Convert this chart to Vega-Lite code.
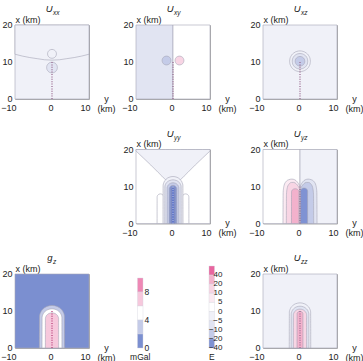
{
"$schema": "https://vega.github.io/schema/vega-lite/v6.json",
"padding": {"left": 0, "top": 3, "right": 0, "bottom": 0},
"config": {
 "font": "Liberation Sans",
 "view": {"stroke": "#aaaaaa", "strokeWidth": 1},
 "axis": {"labels": false, "titleColor": "#222", "titleFontSize": 9, "titleFontWeight": "normal", "titleFont": "Liberation Sans", "ticks": false, "domain": false, "grid": false},
 "text": {"color": "#222", "font": "Liberation Sans"}
},
"datasets": {
 "dike": [{"y": 0, "a": 0, "b": 10.2}],
 "xt": [{"v": -10, "l": "−10"}, {"v": 0, "l": "0"}, {"v": 10, "l": "10"}],
 "yt": [{"v": 0, "l": "0"}, {"v": 10, "l": "10"}, {"v": 20, "l": "20"}],
 "uxx": [
  {"s":"bg","c":"n0","y":-10,"a":0,"b":20},{"s":"bg","c":"n0","y":10,"a":0,"b":20},
  {"s":"up","c":"n0","y":-10,"a":12.1,"b":20},{"s":"up","c":"n0","y":-8,"a":11.6,"b":20},{"s":"up","c":"n0","y":-6,"a":11.2,"b":20},{"s":"up","c":"n0","y":-4,"a":10.9,"b":20},{"s":"up","c":"n0","y":-2,"a":10.6,"b":20},{"s":"up","c":"n0","y":0,"a":10.5,"b":20},{"s":"up","c":"n0","y":2,"a":10.6,"b":20},{"s":"up","c":"n0","y":4,"a":10.9,"b":20},{"s":"up","c":"n0","y":6,"a":11.2,"b":20},{"s":"up","c":"n0","y":8,"a":11.6,"b":20},{"s":"up","c":"n0","y":10,"a":12.1,"b":20},
  {"s":"c1","c":"n0","y":-1.2,"a":12.2,"b":12.2},{"s":"c1","c":"n0","y":-1.16,"a":11.91,"b":12.49},{"s":"c1","c":"n0","y":-1.02,"a":11.57,"b":12.83},{"s":"c1","c":"n0","y":-0.72,"a":11.24,"b":13.16},{"s":"c1","c":"n0","y":-0.36,"a":11.06,"b":13.34},{"s":"c1","c":"n0","y":0,"a":11.0,"b":13.4},{"s":"c1","c":"n0","y":0.36,"a":11.06,"b":13.34},{"s":"c1","c":"n0","y":0.72,"a":11.24,"b":13.16},{"s":"c1","c":"n0","y":1.02,"a":11.57,"b":12.83},{"s":"c1","c":"n0","y":1.16,"a":11.91,"b":12.49},{"s":"c1","c":"n0","y":1.2,"a":12.2,"b":12.2},
  {"s":"c2","c":"n5","y":-1.45,"a":8.5,"b":8.5},{"s":"c2","c":"n5","y":-1.41,"a":8.15,"b":8.85},{"s":"c2","c":"n5","y":-1.23,"a":7.74,"b":9.26},{"s":"c2","c":"n5","y":-0.87,"a":7.34,"b":9.66},{"s":"c2","c":"n5","y":-0.44,"a":7.12,"b":9.88},{"s":"c2","c":"n5","y":0,"a":7.05,"b":9.95},{"s":"c2","c":"n5","y":0.44,"a":7.12,"b":9.88},{"s":"c2","c":"n5","y":0.87,"a":7.34,"b":9.66},{"s":"c2","c":"n5","y":1.23,"a":7.74,"b":9.26},{"s":"c2","c":"n5","y":1.41,"a":8.15,"b":8.85},{"s":"c2","c":"n5","y":1.45,"a":8.5,"b":8.5}
 ],
 "uxy": [
  {"s":"L","c":"n5","y":-10,"a":0,"b":20},{"s":"L","c":"n5","y":0,"a":0,"b":20},
  {"s":"R","c":"p0","y":0,"a":0,"b":20},{"s":"R","c":"p0","y":10,"a":0,"b":20},
  {"s":"cb","c":"n10","y":-2.95,"a":10.4,"b":10.4},{"s":"cb","c":"n10","y":-2.91,"a":10.11,"b":10.69},{"s":"cb","c":"n10","y":-2.77,"a":9.77,"b":11.03},{"s":"cb","c":"n10","y":-2.47,"a":9.44,"b":11.36},{"s":"cb","c":"n10","y":-2.11,"a":9.26,"b":11.54},{"s":"cb","c":"n10","y":-1.75,"a":9.2,"b":11.6},{"s":"cb","c":"n10","y":-1.39,"a":9.26,"b":11.54},{"s":"cb","c":"n10","y":-1.03,"a":9.44,"b":11.36},{"s":"cb","c":"n10","y":-0.73,"a":9.77,"b":11.03},{"s":"cb","c":"n10","y":-0.59,"a":10.11,"b":10.69},{"s":"cb","c":"n10","y":-0.55,"a":10.4,"b":10.4},
  {"s":"cp","c":"p10","y":0.55,"a":10.4,"b":10.4},{"s":"cp","c":"p10","y":0.59,"a":10.11,"b":10.69},{"s":"cp","c":"p10","y":0.73,"a":9.77,"b":11.03},{"s":"cp","c":"p10","y":1.03,"a":9.44,"b":11.36},{"s":"cp","c":"p10","y":1.39,"a":9.26,"b":11.54},{"s":"cp","c":"p10","y":1.75,"a":9.2,"b":11.6},{"s":"cp","c":"p10","y":2.11,"a":9.26,"b":11.54},{"s":"cp","c":"p10","y":2.47,"a":9.44,"b":11.36},{"s":"cp","c":"p10","y":2.77,"a":9.77,"b":11.03},{"s":"cp","c":"p10","y":2.91,"a":10.11,"b":10.69},{"s":"cp","c":"p10","y":2.95,"a":10.4,"b":10.4}
 ],
 "uxz": [
  {"s":"bg","c":"n0","y":-10,"a":0,"b":20},{"s":"bg","c":"n0","y":10,"a":0,"b":20},
  {"s":"c1","c":"n0","y":-2.8,"a":10.2,"b":10.2},{"s":"c1","c":"n0","y":-2.72,"a":9.52,"b":10.88},{"s":"c1","c":"n0","y":-2.38,"a":8.72,"b":11.68},{"s":"c1","c":"n0","y":-1.68,"a":7.96,"b":12.44},{"s":"c1","c":"n0","y":-0.84,"a":7.53,"b":12.87},{"s":"c1","c":"n0","y":0,"a":7.4,"b":13.0},{"s":"c1","c":"n0","y":0.84,"a":7.53,"b":12.87},{"s":"c1","c":"n0","y":1.68,"a":7.96,"b":12.44},{"s":"c1","c":"n0","y":2.38,"a":8.72,"b":11.68},{"s":"c1","c":"n0","y":2.72,"a":9.52,"b":10.88},{"s":"c1","c":"n0","y":2.8,"a":10.2,"b":10.2},
  {"s":"c2","c":"n5","y":-2.1,"a":10.2,"b":10.2},{"s":"c2","c":"n5","y":-2.04,"a":9.69,"b":10.71},{"s":"c2","c":"n5","y":-1.79,"a":9.09,"b":11.31},{"s":"c2","c":"n5","y":-1.26,"a":8.52,"b":11.88},{"s":"c2","c":"n5","y":-0.63,"a":8.2,"b":12.2},{"s":"c2","c":"n5","y":0,"a":8.1,"b":12.3},{"s":"c2","c":"n5","y":0.63,"a":8.2,"b":12.2},{"s":"c2","c":"n5","y":1.26,"a":8.52,"b":11.88},{"s":"c2","c":"n5","y":1.79,"a":9.09,"b":11.31},{"s":"c2","c":"n5","y":2.04,"a":9.69,"b":10.71},{"s":"c2","c":"n5","y":2.1,"a":10.2,"b":10.2},
  {"s":"c3","c":"n10","y":-1.3,"a":10.2,"b":10.2},{"s":"c3","c":"n10","y":-1.26,"a":9.88,"b":10.52},{"s":"c3","c":"n10","y":-1.11,"a":9.52,"b":10.88},{"s":"c3","c":"n10","y":-0.78,"a":9.16,"b":11.24},{"s":"c3","c":"n10","y":-0.39,"a":8.96,"b":11.44},{"s":"c3","c":"n10","y":0,"a":8.9,"b":11.5},{"s":"c3","c":"n10","y":0.39,"a":8.96,"b":11.44},{"s":"c3","c":"n10","y":0.78,"a":9.16,"b":11.24},{"s":"c3","c":"n10","y":1.11,"a":9.52,"b":10.88},{"s":"c3","c":"n10","y":1.26,"a":9.88,"b":10.52},{"s":"c3","c":"n10","y":1.3,"a":10.2,"b":10.2}
 ],
 "uyy": [
  {"s":"bg","c":"p0","y":-10,"a":0,"b":20},{"s":"bg","c":"p0","y":10,"a":0,"b":20},
  {"s":"V","c":"n0","y":-10,"a":19.6,"b":20},{"s":"V","c":"n0","y":-8,"a":17.7,"b":20},{"s":"V","c":"n0","y":-6,"a":15.8,"b":20},{"s":"V","c":"n0","y":-4,"a":13.8,"b":20},{"s":"V","c":"n0","y":-3,"a":12.8,"b":20},{"s":"V","c":"n0","y":-2,"a":11.8,"b":20},{"s":"V","c":"n0","y":-1,"a":11.0,"b":20},{"s":"V","c":"n0","y":0,"a":10.7,"b":20},{"s":"V","c":"n0","y":1,"a":11.0,"b":20},{"s":"V","c":"n0","y":2,"a":11.8,"b":20},{"s":"V","c":"n0","y":3,"a":12.8,"b":20},{"s":"V","c":"n0","y":4,"a":13.8,"b":20},{"s":"V","c":"n0","y":6,"a":15.8,"b":20},{"s":"V","c":"n0","y":8,"a":17.7,"b":20},{"s":"V","c":"n0","y":10,"a":19.6,"b":20},
  {"s":"sl","c":"p0","y":-4.3,"a":0,"b":0},{"s":"sl","c":"p0","y":-4.29,"a":0,"b":7.23},{"s":"sl","c":"p0","y":-4.21,"a":0,"b":7.49},{"s":"sl","c":"p0","y":-4.03,"a":0,"b":7.74},{"s":"sl","c":"p0","y":-3.76,"a":0,"b":7.93},{"s":"sl","c":"p0","y":-3.4,"a":0,"b":8.0},{"s":"sl","c":"p0","y":-3.04,"a":0,"b":7.93},{"s":"sl","c":"p0","y":-2.77,"a":0,"b":7.74},{"s":"sl","c":"p0","y":-2.59,"a":0,"b":7.49},{"s":"sl","c":"p0","y":-2.51,"a":0,"b":7.23},{"s":"sl","c":"p0","y":-2.5,"a":0,"b":0},
  {"s":"sr","c":"p0","y":2.5,"a":0,"b":0},{"s":"sr","c":"p0","y":2.51,"a":0,"b":7.23},{"s":"sr","c":"p0","y":2.59,"a":0,"b":7.49},{"s":"sr","c":"p0","y":2.77,"a":0,"b":7.74},{"s":"sr","c":"p0","y":3.04,"a":0,"b":7.93},{"s":"sr","c":"p0","y":3.4,"a":0,"b":8.0},{"s":"sr","c":"p0","y":3.76,"a":0,"b":7.93},{"s":"sr","c":"p0","y":4.03,"a":0,"b":7.74},{"s":"sr","c":"p0","y":4.21,"a":0,"b":7.49},{"s":"sr","c":"p0","y":4.29,"a":0,"b":7.23},{"s":"sr","c":"p0","y":4.3,"a":0,"b":0},
  {"s":"a1","c":"n0","y":-2.7,"a":0,"b":0},{"s":"a1","c":"n0","y":-2.67,"a":0,"b":10.38},{"s":"a1","c":"n0","y":-2.43,"a":0,"b":11.18},{"s":"a1","c":"n0","y":-1.89,"a":0,"b":11.93},{"s":"a1","c":"n0","y":-1.08,"a":0,"b":12.48},{"s":"a1","c":"n0","y":0,"a":0,"b":12.7},{"s":"a1","c":"n0","y":1.08,"a":0,"b":12.48},{"s":"a1","c":"n0","y":1.89,"a":0,"b":11.93},{"s":"a1","c":"n0","y":2.43,"a":0,"b":11.18},{"s":"a1","c":"n0","y":2.67,"a":0,"b":10.38},{"s":"a1","c":"n0","y":2.7,"a":0,"b":0},
  {"s":"a2","c":"n5","y":-2.2,"a":0,"b":0},{"s":"a2","c":"n5","y":-2.18,"a":0,"b":10.08},{"s":"a2","c":"n5","y":-1.98,"a":0,"b":10.67},{"s":"a2","c":"n5","y":-1.54,"a":0,"b":11.23},{"s":"a2","c":"n5","y":-0.88,"a":0,"b":11.63},{"s":"a2","c":"n5","y":0,"a":0,"b":11.8},{"s":"a2","c":"n5","y":0.88,"a":0,"b":11.63},{"s":"a2","c":"n5","y":1.54,"a":0,"b":11.23},{"s":"a2","c":"n5","y":1.98,"a":0,"b":10.67},{"s":"a2","c":"n5","y":2.18,"a":0,"b":10.08},{"s":"a2","c":"n5","y":2.2,"a":0,"b":0},
  {"s":"a3","c":"n10","y":-1.6,"a":0,"b":0},{"s":"a3","c":"n10","y":-1.58,"a":0,"b":9.71},{"s":"a3","c":"n10","y":-1.44,"a":0,"b":10.15},{"s":"a3","c":"n10","y":-1.12,"a":0,"b":10.57},{"s":"a3","c":"n10","y":-0.64,"a":0,"b":10.88},{"s":"a3","c":"n10","y":0,"a":0,"b":11.0},{"s":"a3","c":"n10","y":0.64,"a":0,"b":10.88},{"s":"a3","c":"n10","y":1.12,"a":0,"b":10.57},{"s":"a3","c":"n10","y":1.44,"a":0,"b":10.15},{"s":"a3","c":"n10","y":1.58,"a":0,"b":9.71},{"s":"a3","c":"n10","y":1.6,"a":0,"b":0},
  {"s":"a4","c":"n20","y":-1.0,"a":0,"b":0},{"s":"a4","c":"n20","y":-0.99,"a":0,"b":9.44},{"s":"a4","c":"n20","y":-0.9,"a":0,"b":9.74},{"s":"a4","c":"n20","y":-0.7,"a":0,"b":10.01},{"s":"a4","c":"n20","y":-0.4,"a":0,"b":10.22},{"s":"a4","c":"n20","y":0,"a":0,"b":10.3},{"s":"a4","c":"n20","y":0.4,"a":0,"b":10.22},{"s":"a4","c":"n20","y":0.7,"a":0,"b":10.01},{"s":"a4","c":"n20","y":0.9,"a":0,"b":9.74},{"s":"a4","c":"n20","y":0.99,"a":0,"b":9.44},{"s":"a4","c":"n20","y":1.0,"a":0,"b":0},
  {"s":"a5","c":"n40","y":-0.5,"a":0,"b":0},{"s":"a5","c":"n40","y":-0.495,"a":0,"b":9.37},{"s":"a5","c":"n40","y":-0.45,"a":0,"b":9.52},{"s":"a5","c":"n40","y":-0.35,"a":0,"b":9.66},{"s":"a5","c":"n40","y":-0.2,"a":0,"b":9.76},{"s":"a5","c":"n40","y":0,"a":0,"b":9.8},{"s":"a5","c":"n40","y":0.2,"a":0,"b":9.76},{"s":"a5","c":"n40","y":0.35,"a":0,"b":9.66},{"s":"a5","c":"n40","y":0.45,"a":0,"b":9.52},{"s":"a5","c":"n40","y":0.495,"a":0,"b":9.37},{"s":"a5","c":"n40","y":0.5,"a":0,"b":0}
 ],
 "uyz": [
  {"s":"L","c":"p0","y":-10,"a":0,"b":20},{"s":"L","c":"p0","y":0,"a":0,"b":20},
  {"s":"R","c":"n0","y":0,"a":0,"b":20},{"s":"R","c":"n0","y":10,"a":0,"b":20},
  {"s":"L1","c":"p5","y":-4.6,"a":0,"b":0},{"s":"L1","c":"p5","y":-4.55,"a":0,"b":8.5},{"s":"L1","c":"p5","y":-4.3,"a":0,"b":10.3},{"s":"L1","c":"p5","y":-3.8,"a":0,"b":11.3},{"s":"L1","c":"p5","y":-3.0,"a":0,"b":11.85},{"s":"L1","c":"p5","y":-2.2,"a":0,"b":12.0},{"s":"L1","c":"p5","y":-1.4,"a":0,"b":11.8},{"s":"L1","c":"p5","y":-0.7,"a":0,"b":11.2},{"s":"L1","c":"p5","y":-0.2,"a":0,"b":10.4},{"s":"L1","c":"p5","y":0,"a":0,"b":10.0},
  {"s":"L2","c":"p10","y":-3.7,"a":0,"b":0},{"s":"L2","c":"p10","y":-3.65,"a":0,"b":8.0},{"s":"L2","c":"p10","y":-3.4,"a":0,"b":9.8},{"s":"L2","c":"p10","y":-3.0,"a":0,"b":10.6},{"s":"L2","c":"p10","y":-2.3,"a":0,"b":11.1},{"s":"L2","c":"p10","y":-1.7,"a":0,"b":11.1},{"s":"L2","c":"p10","y":-1.0,"a":0,"b":10.7},{"s":"L2","c":"p10","y":-0.5,"a":0,"b":10.1},{"s":"L2","c":"p10","y":-0.15,"a":0,"b":9.4},{"s":"L2","c":"p10","y":0,"a":0,"b":9.0},
  {"s":"L3","c":"p20","y":-2.3,"a":0,"b":0},{"s":"L3","c":"p20","y":-2.29,"a":0,"b":8.63},{"s":"L3","c":"p20","y":-2.2,"a":0,"b":8.89},{"s":"L3","c":"p20","y":-2.0,"a":0,"b":9.14},{"s":"L3","c":"p20","y":-1.7,"a":0,"b":9.33},{"s":"L3","c":"p20","y":-1.3,"a":0,"b":9.4},{"s":"L3","c":"p20","y":-0.9,"a":0,"b":9.33},{"s":"L3","c":"p20","y":-0.6,"a":0,"b":9.14},{"s":"L3","c":"p20","y":-0.4,"a":0,"b":8.89},{"s":"L3","c":"p20","y":-0.31,"a":0,"b":8.63},{"s":"L3","c":"p20","y":-0.3,"a":0,"b":0},
  {"s":"R1","c":"n5","y":0,"a":0,"b":10.0},{"s":"R1","c":"n5","y":0.2,"a":0,"b":10.4},{"s":"R1","c":"n5","y":0.7,"a":0,"b":11.2},{"s":"R1","c":"n5","y":1.4,"a":0,"b":11.8},{"s":"R1","c":"n5","y":2.2,"a":0,"b":12.0},{"s":"R1","c":"n5","y":3.0,"a":0,"b":11.85},{"s":"R1","c":"n5","y":3.8,"a":0,"b":11.3},{"s":"R1","c":"n5","y":4.3,"a":0,"b":10.3},{"s":"R1","c":"n5","y":4.55,"a":0,"b":8.5},{"s":"R1","c":"n5","y":4.6,"a":0,"b":0},
  {"s":"R2","c":"n10","y":0,"a":0,"b":9.0},{"s":"R2","c":"n10","y":0.15,"a":0,"b":9.4},{"s":"R2","c":"n10","y":0.5,"a":0,"b":10.1},{"s":"R2","c":"n10","y":1.0,"a":0,"b":10.7},{"s":"R2","c":"n10","y":1.7,"a":0,"b":11.1},{"s":"R2","c":"n10","y":2.3,"a":0,"b":11.1},{"s":"R2","c":"n10","y":3.0,"a":0,"b":10.6},{"s":"R2","c":"n10","y":3.4,"a":0,"b":9.8},{"s":"R2","c":"n10","y":3.65,"a":0,"b":8.0},{"s":"R2","c":"n10","y":3.7,"a":0,"b":0},
  {"s":"R3","c":"n20","y":0.15,"a":0,"b":0},{"s":"R3","c":"n20","y":0.16,"a":0,"b":8.83},{"s":"R3","c":"n20","y":0.25,"a":0,"b":9.09},{"s":"R3","c":"n20","y":0.44,"a":0,"b":9.34},{"s":"R3","c":"n20","y":0.72,"a":0,"b":9.53},{"s":"R3","c":"n20","y":1.1,"a":0,"b":9.6},{"s":"R3","c":"n20","y":1.48,"a":0,"b":9.53},{"s":"R3","c":"n20","y":1.77,"a":0,"b":9.34},{"s":"R3","c":"n20","y":1.96,"a":0,"b":9.09},{"s":"R3","c":"n20","y":2.04,"a":0,"b":8.83},{"s":"R3","c":"n20","y":2.05,"a":0,"b":0}
 ],
 "gz": [
  {"s":"bg","c":"g0","y":-10,"a":0,"b":20},{"s":"bg","c":"g0","y":10,"a":0,"b":20},
  {"s":"G1","c":"g2","y":-3.4,"a":0,"b":0},{"s":"G1","c":"g2","y":-3.37,"a":0,"b":8.67},{"s":"G1","c":"g2","y":-3.06,"a":0,"b":9.64},{"s":"G1","c":"g2","y":-2.38,"a":0,"b":10.56},{"s":"G1","c":"g2","y":-1.36,"a":0,"b":11.23},{"s":"G1","c":"g2","y":0,"a":0,"b":11.5},{"s":"G1","c":"g2","y":1.36,"a":0,"b":11.23},{"s":"G1","c":"g2","y":2.38,"a":0,"b":10.56},{"s":"G1","c":"g2","y":3.06,"a":0,"b":9.64},{"s":"G1","c":"g2","y":3.37,"a":0,"b":8.67},{"s":"G1","c":"g2","y":3.4,"a":0,"b":0},
  {"s":"G2","c":"g4","y":-2.7,"a":0,"b":0},{"s":"G2","c":"g4","y":-2.67,"a":0,"b":8.37},{"s":"G2","c":"g4","y":-2.43,"a":0,"b":9.13},{"s":"G2","c":"g4","y":-1.89,"a":0,"b":9.86},{"s":"G2","c":"g4","y":-1.08,"a":0,"b":10.38},{"s":"G2","c":"g4","y":0,"a":0,"b":10.6},{"s":"G2","c":"g4","y":1.08,"a":0,"b":10.38},{"s":"G2","c":"g4","y":1.89,"a":0,"b":9.86},{"s":"G2","c":"g4","y":2.43,"a":0,"b":9.13},{"s":"G2","c":"g4","y":2.67,"a":0,"b":8.37},{"s":"G2","c":"g4","y":2.7,"a":0,"b":0},
  {"s":"G3","c":"g6","y":-1.8,"a":0,"b":0},{"s":"G3","c":"g6","y":-1.78,"a":0,"b":8.04},{"s":"G3","c":"g6","y":-1.62,"a":0,"b":8.54},{"s":"G3","c":"g6","y":-1.26,"a":0,"b":9.01},{"s":"G3","c":"g6","y":-0.72,"a":0,"b":9.36},{"s":"G3","c":"g6","y":0,"a":0,"b":9.5},{"s":"G3","c":"g6","y":0.72,"a":0,"b":9.36},{"s":"G3","c":"g6","y":1.26,"a":0,"b":9.01},{"s":"G3","c":"g6","y":1.62,"a":0,"b":8.54},{"s":"G3","c":"g6","y":1.78,"a":0,"b":8.04},{"s":"G3","c":"g6","y":1.8,"a":0,"b":0}
 ],
 "uzz": [
  {"s":"bg","c":"n0","y":-10,"a":0,"b":20},{"s":"bg","c":"n0","y":10,"a":0,"b":20},
  {"s":"Z1","c":"n0","y":-2.9,"a":0,"b":0},{"s":"Z1","c":"n0","y":-2.87,"a":0,"b":9.79},{"s":"Z1","c":"n0","y":-2.61,"a":0,"b":10.62},{"s":"Z1","c":"n0","y":-2.03,"a":0,"b":11.4},{"s":"Z1","c":"n0","y":-1.16,"a":0,"b":11.97},{"s":"Z1","c":"n0","y":0,"a":0,"b":12.2},{"s":"Z1","c":"n0","y":1.16,"a":0,"b":11.97},{"s":"Z1","c":"n0","y":2.03,"a":0,"b":11.4},{"s":"Z1","c":"n0","y":2.61,"a":0,"b":10.62},{"s":"Z1","c":"n0","y":2.87,"a":0,"b":9.79},{"s":"Z1","c":"n0","y":2.9,"a":0,"b":0},
  {"s":"Z2","c":"n5","y":-2.4,"a":0,"b":0},{"s":"Z2","c":"n5","y":-2.38,"a":0,"b":9.32},{"s":"Z2","c":"n5","y":-2.16,"a":0,"b":10.0},{"s":"Z2","c":"n5","y":-1.68,"a":0,"b":10.64},{"s":"Z2","c":"n5","y":-0.96,"a":0,"b":11.11},{"s":"Z2","c":"n5","y":0,"a":0,"b":11.3},{"s":"Z2","c":"n5","y":0.96,"a":0,"b":11.11},{"s":"Z2","c":"n5","y":1.68,"a":0,"b":10.64},{"s":"Z2","c":"n5","y":2.16,"a":0,"b":10.0},{"s":"Z2","c":"n5","y":2.38,"a":0,"b":9.32},{"s":"Z2","c":"n5","y":2.4,"a":0,"b":0},
  {"s":"Z3","c":"p10","y":-1.8,"a":0,"b":0},{"s":"Z3","c":"p10","y":-1.78,"a":0,"b":9.04},{"s":"Z3","c":"p10","y":-1.62,"a":0,"b":9.54},{"s":"Z3","c":"p10","y":-1.26,"a":0,"b":10.01},{"s":"Z3","c":"p10","y":-0.72,"a":0,"b":10.36},{"s":"Z3","c":"p10","y":0,"a":0,"b":10.5},{"s":"Z3","c":"p10","y":0.72,"a":0,"b":10.36},{"s":"Z3","c":"p10","y":1.26,"a":0,"b":10.01},{"s":"Z3","c":"p10","y":1.62,"a":0,"b":9.54},{"s":"Z3","c":"p10","y":1.78,"a":0,"b":9.04},{"s":"Z3","c":"p10","y":1.8,"a":0,"b":0},
  {"s":"Z4","c":"p20","y":-0.8,"a":0,"b":0},{"s":"Z4","c":"p20","y":-0.79,"a":0,"b":9.3},{"s":"Z4","c":"p20","y":-0.72,"a":0,"b":9.51},{"s":"Z4","c":"p20","y":-0.56,"a":0,"b":9.7},{"s":"Z4","c":"p20","y":-0.32,"a":0,"b":9.84},{"s":"Z4","c":"p20","y":0,"a":0,"b":9.9},{"s":"Z4","c":"p20","y":0.32,"a":0,"b":9.84},{"s":"Z4","c":"p20","y":0.56,"a":0,"b":9.7},{"s":"Z4","c":"p20","y":0.72,"a":0,"b":9.51},{"s":"Z4","c":"p20","y":0.79,"a":0,"b":9.3},{"s":"Z4","c":"p20","y":0.8,"a":0,"b":0}
 ],
 "mgal": [
  {"bar":"mGal","bin":"8–10","c":"g8","lab":"8","u":""},
  {"bar":"mGal","bin":"6–8","c":"g6","lab":"","u":""},
  {"bar":"mGal","bin":"4–6","c":"g4","lab":"4","u":""},
  {"bar":"mGal","bin":"2–4","c":"g2","lab":"","u":""},
  {"bar":"mGal","bin":"0–2","c":"g0","lab":"0","u":"mGal"}
 ],
 "ebar": [
  {"bar":"E","bin":">40","c":"p40","lab":"40","u":""},
  {"bar":"E","bin":"20–40","c":"p20","lab":"20","u":""},
  {"bar":"E","bin":"10–20","c":"p10","lab":"10","u":""},
  {"bar":"E","bin":"5–10","c":"p5","lab":"5","u":""},
  {"bar":"E","bin":"0–5","c":"p0","lab":"0","u":""},
  {"bar":"E","bin":"−5–0","c":"n0","lab":"−5","u":""},
  {"bar":"E","bin":"−10–−5","c":"n5","lab":"−10","u":""},
  {"bar":"E","bin":"−20–−10","c":"n10","lab":"−20","u":""},
  {"bar":"E","bin":"−40–−20","c":"n20","lab":"−40","u":"E"}
 ]
},
"bounds": "flush",
"columns": 3,
"spacing": {"row": 50.5, "column": 47},
"concat": [
  {"width":74,"height":74,"layer":[
   {"data":{"name":"uxx"},"mark":{"type":"area","interpolate":"monotone","stroke":"#a4a4b6","strokeWidth":0.6},
    "encoding":{
     "x":{"field":"y","type":"quantitative","scale":{"domain":[-10,10],"nice":false,"zero":false},"axis":{"values":[-10,0,10],"title":["y","(km)"],"titleX":91,"titleY":-5,"titleAlign":"center","titleBaseline":"top","titleLineHeight":10}},
     "y":{"field":"a","type":"quantitative","stack":null,"scale":{"domain":[0,20],"nice":false,"zero":false},"axis":{"values":[0,10,20],"title":"x (km)","titleAngle":0,"titleX":0,"titleY":-3,"titleAlign":"left","titleBaseline":"alphabetic"}},
     "y2":{"field":"b"},
     "color":{"field":"c","type":"nominal","legend":null,"scale":{"domain":["p40","p20","p10","p5","p0","n0","n5","n10","n20","n40","g0","g2","g4","g6","g8"],"range":["#e8659f","#f3b1cc","#f8d5e4","#fbeaf2","#ffffff","#f0f1f8","#e1e4f2","#c4cbe8","#7f92d3","#6479c9","#7b8fd0","#c4cbe8","#ffffff","#f6c8dc","#ee88b5"]}},
     "detail":{"field":"s"}}},
   {"data":{"name":"dike"},"mark":{"type":"rule","strokeDash":[1,1.4],"strokeWidth":1.3,"color":"#9a6c92"},
    "encoding":{"x":{"field":"y","type":"quantitative"},"y":{"field":"a","type":"quantitative"},"y2":{"field":"b"}}},
   {"data":{"name":"xt"},"mark":{"type":"text","fontSize":9,"align":"right","baseline":"top","dx":1.5,"dy":5},
    "encoding":{"x":{"field":"v","type":"quantitative"},"y":{"datum":0,"type":"quantitative"},"text":{"field":"l"}}},
   {"data":{"name":"yt"},"mark":{"type":"text","fontSize":9,"align":"right","baseline":"middle","dx":-2.5},
    "encoding":{"x":{"datum":-10,"type":"quantitative"},"y":{"field":"v","type":"quantitative"},"text":{"field":"l"}}},
   {"data":{"values":[{"t":"U","sub":"xx"}]},"mark":{"type":"text","fontStyle":"italic","fontSize":9.5,"align":"right","baseline":"alphabetic","dx":0.5},
    "encoding":{"x":{"datum":0,"type":"quantitative"},"y":{"datum":23.5,"type":"quantitative"},"text":{"field":"t"}}},
   {"data":{"values":[{"t":"U","sub":"xx"}]},"mark":{"type":"text","fontStyle":"italic","fontSize":6.5,"align":"left","baseline":"alphabetic","dx":1},
    "encoding":{"x":{"datum":0,"type":"quantitative"},"y":{"datum":22.7,"type":"quantitative"},"text":{"field":"sub"}}}
  ]},
  {"width":74,"height":74,"layer":[
   {"data":{"name":"uxy"},"mark":{"type":"area","interpolate":"monotone","stroke":"#a4a4b6","strokeWidth":0.6},
    "encoding":{
     "x":{"field":"y","type":"quantitative","scale":{"domain":[-10,10],"nice":false,"zero":false},"axis":{"values":[-10,0,10],"title":["y","(km)"],"titleX":91,"titleY":-5,"titleAlign":"center","titleBaseline":"top","titleLineHeight":10}},
     "y":{"field":"a","type":"quantitative","stack":null,"scale":{"domain":[0,20],"nice":false,"zero":false},"axis":{"values":[0,10,20],"title":"x (km)","titleAngle":0,"titleX":0,"titleY":-3,"titleAlign":"left","titleBaseline":"alphabetic"}},
     "y2":{"field":"b"},
     "color":{"field":"c","type":"nominal","legend":null,"scale":{"domain":["p40","p20","p10","p5","p0","n0","n5","n10","n20","n40","g0","g2","g4","g6","g8"],"range":["#e8659f","#f3b1cc","#f8d5e4","#fbeaf2","#ffffff","#f0f1f8","#e1e4f2","#c4cbe8","#7f92d3","#6479c9","#7b8fd0","#c4cbe8","#ffffff","#f6c8dc","#ee88b5"]}},
     "detail":{"field":"s"}}},
   {"data":{"name":"dike"},"mark":{"type":"rule","strokeDash":[1,1.4],"strokeWidth":1.3,"color":"#9a6c92"},
    "encoding":{"x":{"field":"y","type":"quantitative"},"y":{"field":"a","type":"quantitative"},"y2":{"field":"b"}}},
   {"data":{"name":"xt"},"mark":{"type":"text","fontSize":9,"align":"right","baseline":"top","dx":1.5,"dy":5},
    "encoding":{"x":{"field":"v","type":"quantitative"},"y":{"datum":0,"type":"quantitative"},"text":{"field":"l"}}},
   {"data":{"name":"yt"},"mark":{"type":"text","fontSize":9,"align":"right","baseline":"middle","dx":-2.5},
    "encoding":{"x":{"datum":-10,"type":"quantitative"},"y":{"field":"v","type":"quantitative"},"text":{"field":"l"}}},
   {"data":{"values":[{"t":"U","sub":"xy"}]},"mark":{"type":"text","fontStyle":"italic","fontSize":9.5,"align":"right","baseline":"alphabetic","dx":0.5},
    "encoding":{"x":{"datum":0,"type":"quantitative"},"y":{"datum":23.5,"type":"quantitative"},"text":{"field":"t"}}},
   {"data":{"values":[{"t":"U","sub":"xy"}]},"mark":{"type":"text","fontStyle":"italic","fontSize":6.5,"align":"left","baseline":"alphabetic","dx":1},
    "encoding":{"x":{"datum":0,"type":"quantitative"},"y":{"datum":22.7,"type":"quantitative"},"text":{"field":"sub"}}}
  ]},
  {"width":74,"height":74,"layer":[
   {"data":{"name":"uxz"},"mark":{"type":"area","interpolate":"monotone","stroke":"#a4a4b6","strokeWidth":0.6},
    "encoding":{
     "x":{"field":"y","type":"quantitative","scale":{"domain":[-10,10],"nice":false,"zero":false},"axis":{"values":[-10,0,10],"title":["y","(km)"],"titleX":91,"titleY":-5,"titleAlign":"center","titleBaseline":"top","titleLineHeight":10}},
     "y":{"field":"a","type":"quantitative","stack":null,"scale":{"domain":[0,20],"nice":false,"zero":false},"axis":{"values":[0,10,20],"title":"x (km)","titleAngle":0,"titleX":0,"titleY":-3,"titleAlign":"left","titleBaseline":"alphabetic"}},
     "y2":{"field":"b"},
     "color":{"field":"c","type":"nominal","legend":null,"scale":{"domain":["p40","p20","p10","p5","p0","n0","n5","n10","n20","n40","g0","g2","g4","g6","g8"],"range":["#e8659f","#f3b1cc","#f8d5e4","#fbeaf2","#ffffff","#f0f1f8","#e1e4f2","#c4cbe8","#7f92d3","#6479c9","#7b8fd0","#c4cbe8","#ffffff","#f6c8dc","#ee88b5"]}},
     "detail":{"field":"s"}}},
   {"data":{"name":"dike"},"mark":{"type":"rule","strokeDash":[1,1.4],"strokeWidth":1.3,"color":"#9a6c92"},
    "encoding":{"x":{"field":"y","type":"quantitative"},"y":{"field":"a","type":"quantitative"},"y2":{"field":"b"}}},
   {"data":{"name":"xt"},"mark":{"type":"text","fontSize":9,"align":"right","baseline":"top","dx":1.5,"dy":5},
    "encoding":{"x":{"field":"v","type":"quantitative"},"y":{"datum":0,"type":"quantitative"},"text":{"field":"l"}}},
   {"data":{"name":"yt"},"mark":{"type":"text","fontSize":9,"align":"right","baseline":"middle","dx":-2.5},
    "encoding":{"x":{"datum":-10,"type":"quantitative"},"y":{"field":"v","type":"quantitative"},"text":{"field":"l"}}},
   {"data":{"values":[{"t":"U","sub":"xz"}]},"mark":{"type":"text","fontStyle":"italic","fontSize":9.5,"align":"right","baseline":"alphabetic","dx":0.5},
    "encoding":{"x":{"datum":0,"type":"quantitative"},"y":{"datum":23.5,"type":"quantitative"},"text":{"field":"t"}}},
   {"data":{"values":[{"t":"U","sub":"xz"}]},"mark":{"type":"text","fontStyle":"italic","fontSize":6.5,"align":"left","baseline":"alphabetic","dx":1},
    "encoding":{"x":{"datum":0,"type":"quantitative"},"y":{"datum":22.7,"type":"quantitative"},"text":{"field":"sub"}}}
  ]},
  {"width":74,"height":74,"view":{"stroke":null},"data":{"values":[]},"mark":"point"},
  {"width":74,"height":74,"layer":[
   {"data":{"name":"uyy"},"mark":{"type":"area","interpolate":"monotone","stroke":"#a4a4b6","strokeWidth":0.6},
    "encoding":{
     "x":{"field":"y","type":"quantitative","scale":{"domain":[-10,10],"nice":false,"zero":false},"axis":{"values":[-10,0,10],"title":["y","(km)"],"titleX":91,"titleY":-5,"titleAlign":"center","titleBaseline":"top","titleLineHeight":10}},
     "y":{"field":"a","type":"quantitative","stack":null,"scale":{"domain":[0,20],"nice":false,"zero":false},"axis":{"values":[0,10,20],"title":"x (km)","titleAngle":0,"titleX":0,"titleY":-3,"titleAlign":"left","titleBaseline":"alphabetic"}},
     "y2":{"field":"b"},
     "color":{"field":"c","type":"nominal","legend":null,"scale":{"domain":["p40","p20","p10","p5","p0","n0","n5","n10","n20","n40","g0","g2","g4","g6","g8"],"range":["#e8659f","#f3b1cc","#f8d5e4","#fbeaf2","#ffffff","#f0f1f8","#e1e4f2","#c4cbe8","#7f92d3","#6479c9","#7b8fd0","#c4cbe8","#ffffff","#f6c8dc","#ee88b5"]}},
     "detail":{"field":"s"}}},
   {"data":{"name":"dike"},"mark":{"type":"rule","strokeDash":[1,1.4],"strokeWidth":1.3,"color":"#a8b4e0"},
    "encoding":{"x":{"field":"y","type":"quantitative"},"y":{"field":"a","type":"quantitative"},"y2":{"field":"b"}}},
   {"data":{"name":"xt"},"mark":{"type":"text","fontSize":9,"align":"right","baseline":"top","dx":1.5,"dy":5},
    "encoding":{"x":{"field":"v","type":"quantitative"},"y":{"datum":0,"type":"quantitative"},"text":{"field":"l"}}},
   {"data":{"name":"yt"},"mark":{"type":"text","fontSize":9,"align":"right","baseline":"middle","dx":-2.5},
    "encoding":{"x":{"datum":-10,"type":"quantitative"},"y":{"field":"v","type":"quantitative"},"text":{"field":"l"}}},
   {"data":{"values":[{"t":"U","sub":"yy"}]},"mark":{"type":"text","fontStyle":"italic","fontSize":9.5,"align":"right","baseline":"alphabetic","dx":0.5},
    "encoding":{"x":{"datum":0,"type":"quantitative"},"y":{"datum":23.5,"type":"quantitative"},"text":{"field":"t"}}},
   {"data":{"values":[{"t":"U","sub":"yy"}]},"mark":{"type":"text","fontStyle":"italic","fontSize":6.5,"align":"left","baseline":"alphabetic","dx":1},
    "encoding":{"x":{"datum":0,"type":"quantitative"},"y":{"datum":22.7,"type":"quantitative"},"text":{"field":"sub"}}}
  ]},
  {"width":74,"height":74,"layer":[
   {"data":{"name":"uyz"},"mark":{"type":"area","interpolate":"monotone","stroke":"#a4a4b6","strokeWidth":0.6},
    "encoding":{
     "x":{"field":"y","type":"quantitative","scale":{"domain":[-10,10],"nice":false,"zero":false},"axis":{"values":[-10,0,10],"title":["y","(km)"],"titleX":91,"titleY":-5,"titleAlign":"center","titleBaseline":"top","titleLineHeight":10}},
     "y":{"field":"a","type":"quantitative","stack":null,"scale":{"domain":[0,20],"nice":false,"zero":false},"axis":{"values":[0,10,20],"title":"x (km)","titleAngle":0,"titleX":0,"titleY":-3,"titleAlign":"left","titleBaseline":"alphabetic"}},
     "y2":{"field":"b"},
     "color":{"field":"c","type":"nominal","legend":null,"scale":{"domain":["p40","p20","p10","p5","p0","n0","n5","n10","n20","n40","g0","g2","g4","g6","g8"],"range":["#e8659f","#f3b1cc","#f8d5e4","#fbeaf2","#ffffff","#f0f1f8","#e1e4f2","#c4cbe8","#7f92d3","#6479c9","#7b8fd0","#c4cbe8","#ffffff","#f6c8dc","#ee88b5"]}},
     "detail":{"field":"s"}}},
   {"data":{"name":"dike"},"mark":{"type":"rule","strokeDash":[1,1.4],"strokeWidth":1.3,"color":"#9a6c92"},
    "encoding":{"x":{"field":"y","type":"quantitative"},"y":{"field":"a","type":"quantitative"},"y2":{"field":"b"}}},
   {"data":{"name":"xt"},"mark":{"type":"text","fontSize":9,"align":"right","baseline":"top","dx":1.5,"dy":5},
    "encoding":{"x":{"field":"v","type":"quantitative"},"y":{"datum":0,"type":"quantitative"},"text":{"field":"l"}}},
   {"data":{"name":"yt"},"mark":{"type":"text","fontSize":9,"align":"right","baseline":"middle","dx":-2.5},
    "encoding":{"x":{"datum":-10,"type":"quantitative"},"y":{"field":"v","type":"quantitative"},"text":{"field":"l"}}},
   {"data":{"values":[{"t":"U","sub":"yz"}]},"mark":{"type":"text","fontStyle":"italic","fontSize":9.5,"align":"right","baseline":"alphabetic","dx":0.5},
    "encoding":{"x":{"datum":0,"type":"quantitative"},"y":{"datum":23.5,"type":"quantitative"},"text":{"field":"t"}}},
   {"data":{"values":[{"t":"U","sub":"yz"}]},"mark":{"type":"text","fontStyle":"italic","fontSize":6.5,"align":"left","baseline":"alphabetic","dx":1},
    "encoding":{"x":{"datum":0,"type":"quantitative"},"y":{"datum":22.7,"type":"quantitative"},"text":{"field":"sub"}}}
  ]},
  {"width":74,"height":74,"layer":[
   {"data":{"name":"gz"},"mark":{"type":"area","interpolate":"monotone","stroke":"#a4a4b6","strokeWidth":0.6},
    "encoding":{
     "x":{"field":"y","type":"quantitative","scale":{"domain":[-10,10],"nice":false,"zero":false},"axis":{"values":[-10,0,10],"title":["y","(km)"],"titleX":91,"titleY":-5,"titleAlign":"center","titleBaseline":"top","titleLineHeight":10}},
     "y":{"field":"a","type":"quantitative","stack":null,"scale":{"domain":[0,20],"nice":false,"zero":false},"axis":{"values":[0,10,20],"title":"x (km)","titleAngle":0,"titleX":0,"titleY":-3,"titleAlign":"left","titleBaseline":"alphabetic"}},
     "y2":{"field":"b"},
     "color":{"field":"c","type":"nominal","legend":null,"scale":{"domain":["p40","p20","p10","p5","p0","n0","n5","n10","n20","n40","g0","g2","g4","g6","g8"],"range":["#e8659f","#f3b1cc","#f8d5e4","#fbeaf2","#ffffff","#f0f1f8","#e1e4f2","#c4cbe8","#7f92d3","#6479c9","#7b8fd0","#c4cbe8","#ffffff","#f6c8dc","#ee88b5"]}},
     "detail":{"field":"s"}}},
   {"data":{"name":"dike"},"mark":{"type":"rule","strokeDash":[1,1.4],"strokeWidth":1.3,"color":"#b8407a"},
    "encoding":{"x":{"field":"y","type":"quantitative"},"y":{"field":"a","type":"quantitative"},"y2":{"field":"b"}}},
   {"data":{"name":"xt"},"mark":{"type":"text","fontSize":9,"align":"right","baseline":"top","dx":1.5,"dy":5},
    "encoding":{"x":{"field":"v","type":"quantitative"},"y":{"datum":0,"type":"quantitative"},"text":{"field":"l"}}},
   {"data":{"name":"yt"},"mark":{"type":"text","fontSize":9,"align":"right","baseline":"middle","dx":-2.5},
    "encoding":{"x":{"datum":-10,"type":"quantitative"},"y":{"field":"v","type":"quantitative"},"text":{"field":"l"}}},
   {"data":{"values":[{"t":"g","sub":"z"}]},"mark":{"type":"text","fontStyle":"italic","fontSize":9.5,"align":"right","baseline":"alphabetic","dx":0.5},
    "encoding":{"x":{"datum":0,"type":"quantitative"},"y":{"datum":23.5,"type":"quantitative"},"text":{"field":"t"}}},
   {"data":{"values":[{"t":"g","sub":"z"}]},"mark":{"type":"text","fontStyle":"italic","fontSize":6.5,"align":"left","baseline":"alphabetic","dx":1},
    "encoding":{"x":{"datum":0,"type":"quantitative"},"y":{"datum":22.7,"type":"quantitative"},"text":{"field":"sub"}}}
  ]},
  {"width":80,"height":74,"view":{"stroke":null},
   "layer":[
    {"data":{"name":"mgal"},
     "encoding":{
      "x":{"field":"bar","type":"nominal","scale":{"domain":["mGal","E"],"paddingInner":0.923,"paddingOuter":0.021},"axis":null},
      "y":{"field":"bin","type":"ordinal","sort":null,"scale":{"range":[4,74],"paddingInner":0,"paddingOuter":0},"axis":null}},
     "layer":[
      {"mark":{"type":"rect","stroke":"#d4d4de","strokeWidth":0.4},"encoding":{"color":{"field":"c","type":"nominal","legend":null,"scale":{"domain":["p40","p20","p10","p5","p0","n0","n5","n10","n20","n40","g0","g2","g4","g6","g8"],"range":["#e8659f","#f3b1cc","#f8d5e4","#fbeaf2","#ffffff","#f0f1f8","#e1e4f2","#c4cbe8","#7f92d3","#6479c9","#7b8fd0","#c4cbe8","#ffffff","#f6c8dc","#ee88b5"]}}}},
      {"mark":{"type":"text","align":"left","baseline":"middle","dx":1.5,"fontSize":8.5},"encoding":{"x":{"field":"bar","type":"nominal","bandPosition":1,"axis":null},"y":{"field":"bin","type":"ordinal","sort":null,"bandPosition":1,"axis":null},"text":{"field":"lab"}}},
      {"mark":{"type":"text","align":"center","baseline":"top","dy":5,"fontSize":8.5},"encoding":{"y":{"field":"bin","type":"ordinal","sort":null,"bandPosition":1,"axis":null},"text":{"field":"u"}}}
     ]},
    {"data":{"name":"ebar"},
     "encoding":{
      "x":{"field":"bar","type":"nominal","scale":{"domain":["mGal","E"],"paddingInner":0.923,"paddingOuter":0.021},"axis":null},
      "y":{"field":"bin","type":"ordinal","sort":null,"scale":{"range":[-8,74],"paddingInner":0,"paddingOuter":0},"axis":null}},
     "layer":[
      {"mark":{"type":"rect","stroke":"#d4d4de","strokeWidth":0.4},"encoding":{"color":{"field":"c","type":"nominal","legend":null,"scale":{"domain":["p40","p20","p10","p5","p0","n0","n5","n10","n20","n40","g0","g2","g4","g6","g8"],"range":["#e8659f","#f3b1cc","#f8d5e4","#fbeaf2","#ffffff","#f0f1f8","#e1e4f2","#c4cbe8","#7f92d3","#6479c9","#7b8fd0","#c4cbe8","#ffffff","#f6c8dc","#ee88b5"]}}}},
      {"mark":{"type":"text","align":"right","baseline":"middle","dx":8,"fontSize":8},"encoding":{"x":{"field":"bar","type":"nominal","bandPosition":1,"axis":null},"y":{"field":"bin","type":"ordinal","sort":null,"bandPosition":1,"axis":null},"text":{"field":"lab"}}},
      {"mark":{"type":"text","align":"center","baseline":"top","dy":5,"fontSize":8.5},"encoding":{"y":{"field":"bin","type":"ordinal","sort":null,"bandPosition":1,"axis":null},"text":{"field":"u"}}}
     ]}
   ],
   "resolve":{"scale":{"y":"independent"}}},
  {"width":74,"height":74,"layer":[
   {"data":{"name":"uzz"},"mark":{"type":"area","interpolate":"monotone","stroke":"#a4a4b6","strokeWidth":0.6},
    "encoding":{
     "x":{"field":"y","type":"quantitative","scale":{"domain":[-10,10],"nice":false,"zero":false},"axis":{"values":[-10,0,10],"title":["y","(km)"],"titleX":91,"titleY":-5,"titleAlign":"center","titleBaseline":"top","titleLineHeight":10}},
     "y":{"field":"a","type":"quantitative","stack":null,"scale":{"domain":[0,20],"nice":false,"zero":false},"axis":{"values":[0,10,20],"title":"x (km)","titleAngle":0,"titleX":0,"titleY":-3,"titleAlign":"left","titleBaseline":"alphabetic"}},
     "y2":{"field":"b"},
     "color":{"field":"c","type":"nominal","legend":null,"scale":{"domain":["p40","p20","p10","p5","p0","n0","n5","n10","n20","n40","g0","g2","g4","g6","g8"],"range":["#e8659f","#f3b1cc","#f8d5e4","#fbeaf2","#ffffff","#f0f1f8","#e1e4f2","#c4cbe8","#7f92d3","#6479c9","#7b8fd0","#c4cbe8","#ffffff","#f6c8dc","#ee88b5"]}},
     "detail":{"field":"s"}}},
   {"data":{"name":"dike"},"mark":{"type":"rule","strokeDash":[1,1.4],"strokeWidth":1.3,"color":"#9a6c92"},
    "encoding":{"x":{"field":"y","type":"quantitative"},"y":{"field":"a","type":"quantitative"},"y2":{"field":"b"}}},
   {"data":{"name":"xt"},"mark":{"type":"text","fontSize":9,"align":"right","baseline":"top","dx":1.5,"dy":5},
    "encoding":{"x":{"field":"v","type":"quantitative"},"y":{"datum":0,"type":"quantitative"},"text":{"field":"l"}}},
   {"data":{"name":"yt"},"mark":{"type":"text","fontSize":9,"align":"right","baseline":"middle","dx":-2.5},
    "encoding":{"x":{"datum":-10,"type":"quantitative"},"y":{"field":"v","type":"quantitative"},"text":{"field":"l"}}},
   {"data":{"values":[{"t":"U","sub":"zz"}]},"mark":{"type":"text","fontStyle":"italic","fontSize":9.5,"align":"right","baseline":"alphabetic","dx":0.5},
    "encoding":{"x":{"datum":0,"type":"quantitative"},"y":{"datum":23.5,"type":"quantitative"},"text":{"field":"t"}}},
   {"data":{"values":[{"t":"U","sub":"zz"}]},"mark":{"type":"text","fontStyle":"italic","fontSize":6.5,"align":"left","baseline":"alphabetic","dx":1},
    "encoding":{"x":{"datum":0,"type":"quantitative"},"y":{"datum":22.7,"type":"quantitative"},"text":{"field":"sub"}}}
  ]}
]
}
